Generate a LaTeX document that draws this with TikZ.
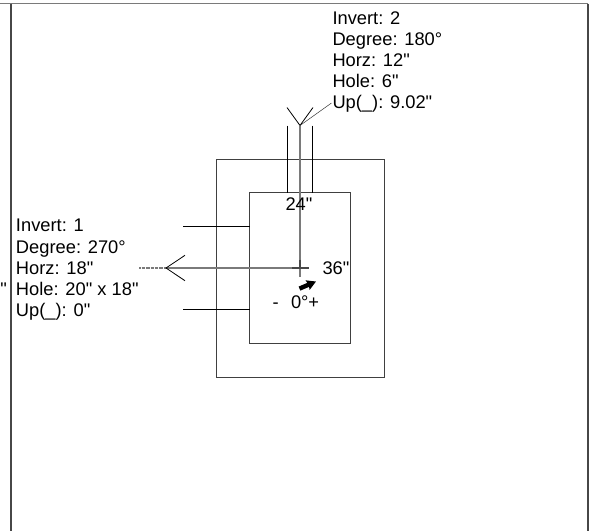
\documentclass[tikz,border=0pt]{standalone}
\usepackage{fontspec}
\newfontfamily\lblfont{Liberation Sans}
\usetikzlibrary{arrows.meta}
\tikzset{
  lbl/.style={inner sep=0pt,outer sep=0pt,anchor=base west,font=\lblfont\fontsize{18.3}{21}\selectfont,text=black},
  frameline/.style={draw=black!72,line width=1.9pt},
  wall/.style={draw=black!75,line width=0.9pt,outer sep=0pt},
  thinline/.style={draw=black,line width=0.8pt},
  axisline/.style={draw=black!52,line width=1.5pt},
  crossline/.style={draw=black!72,line width=1.1pt},
  leader/.style={draw=black!80,line width=0.5pt}
}
\begin{document}
\begin{tikzpicture}[x=1pt,y=-1pt]
\useasboundingbox (0,0) rectangle (595,531);
% page frame
\coordinate (ftl0) at (0,3.7);
\coordinate (ftr) at (588,3.7);
\coordinate (fl0) at (11.3,3.7);
\coordinate (fl1) at (11.3,531);
\coordinate (fr0) at (587.7,3.7);
\coordinate (fr1) at (587.7,531);
\draw[draw=black!52,line width=1.5pt] (ftl0) -- (ftr);
\draw[frameline] (fl0) -- (fl1);
\draw[frameline] (fr0) -- (fr1);
% outer and inner boxes
\node[wall,minimum width=167.5pt,minimum height=218pt,inner sep=0pt,anchor=north west] (outer) at (216.5,159) {};
\node[wall,minimum width=100.6pt,minimum height=150.3pt,inner sep=0pt,anchor=north west] (inner) at (249.7,192.7) {};
% invert 2 (top)
\coordinate (c) at (300,268);
\coordinate (t2) at (300,125.5);
\coordinate (b2a) at (287,107.5);
\coordinate (b2b) at (313,107.5);
\coordinate (pl0) at (287.6,125.5);
\coordinate (pl1) at (287.6,192.7);
\coordinate (pr0) at (312.6,125.5);
\coordinate (pr1) at (312.6,192.7);
\coordinate (cb) at (300,276.5);
\draw[axisline] (t2) -- (cb);
\draw[thinline] (pl0) -- (pl1);
\draw[thinline] (pr0) -- (pr1);
\draw[thinline] (b2a) -- (t2) -- (b2b);
% invert 1 (left)
\coordinate (t1) at (166,268);
\coordinate (t1e) at (139,268);
\coordinate (ce) at (308.5,268);
\coordinate (b1a) at (185,255.3);
\coordinate (b1b) at (185,280.7);
\coordinate (w1) at (183,226.3);
\coordinate (w1e) at (249.7,226.3);
\coordinate (w2) at (183,309.3);
\coordinate (w2e) at (249.7,309.3);
\draw[axisline] (t1) -- (ce);
\draw[draw=black!52,line width=1.5pt,dash pattern=on 0.8pt off 0.5pt] (t1e) -- (t1);
\draw[thinline] (b1a) -- (t1) -- (b1b);
\draw[thinline] (w1) -- (w1e);
\draw[thinline] (w2) -- (w2e);
% centre cross
\coordinate (xl) at (292,268);
\coordinate (xt) at (300,259.5);
\draw[crossline] (xl) -- (ce);
\draw[crossline] (xt) -- (c);
% slope arrow
\coordinate (sa) at (299.5,288.6);
\coordinate (sb) at (316,281.5);
\draw[line width=4.4pt,-{Stealth[length=9pt,width=10pt,inset=1pt]}] (sa) -- (sb);
% labels
\node[lbl] (tA) at (332.5,24) {Invert: 2};
\node[lbl] (tB) at (332.5,45) {Degree: 180°};
\node[lbl] (tC) at (332.5,66) {Horz: 12"};
\node[lbl] (tD) at (332.5,87) {Hole: 6"};
\node[lbl] (tE) at (332.5,108) {Up(\_): 9.02"};
\coordinate (lead) at (331.5,103);
\draw[leader] (t2) -- (lead);
\node[lbl] (lA) at (16,231.7) {Invert: 1};
\node[lbl] (lB) at (16,253) {Degree: 270°};
\node[lbl] (lC) at (16,274.2) {Horz: 18"};
\node[lbl] (lD) at (16,295.5) {Hole: 20" x 18"};
\node[lbl] (lE) at (16,316.7) {Up(\_): 0"};
\node[lbl] (lq) at (0.5,295.5) {"};
\node[lbl] (d24) at (285.5,210.5) {24"};
\node[lbl] (d36) at (322.5,274) {36"};
\node[lbl] (sl) at (272.5,308.5) {-};
\node[lbl] (s0) at (291,308.5) {0°+};
\end{tikzpicture}
\end{document}
